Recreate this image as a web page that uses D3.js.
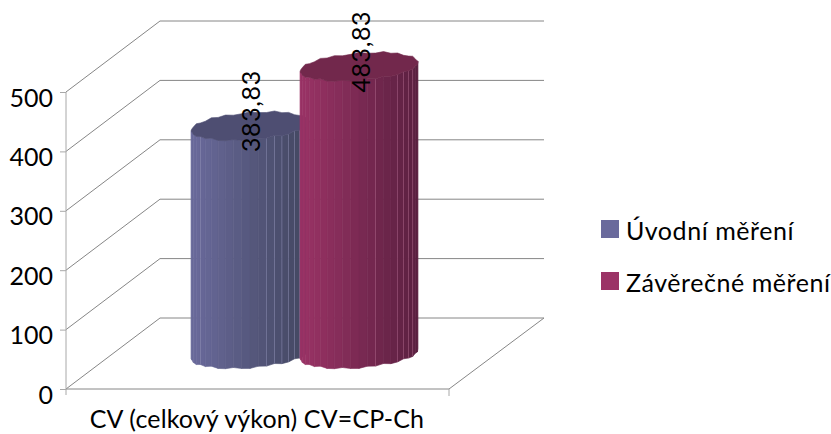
<!DOCTYPE html>
<html>
<head>
<meta charset="utf-8">
<script src="https://cdn.jsdelivr.net/npm/d3@7"></script>
<style>
  html, body { margin: 0; background: #fff; }
  svg { display: block; }
  text { font-family: Lato, "Open Sans", sans-serif; fill: #000; }
</style>
</head>
<body>
<svg id="chart" width="831" height="434"></svg>
<script>
const category = "CV (celkový výkon) CV=CP-Ch";
const seriesNames = ["Úvodní měření", "Závěrečné měření"];
const seriesValues = [383.83, 483.83];
const valueLabels = ["383,83", "483,83"];
const axisTicks = [0, 100, 200, 300, 400, 500];
const lightColors = ["#6a6a9c", "#9b3366"];
const darkColors = ["#42465f", "#5a2040"];
const capColors = ["#4e4e72", "#72284c"];
const edgeColors = ["#8f8fb8", "#b2668c"];
const seamFacets = [[4, 13, 14, 15, 16, 17, 18], [13, 16, 17, 18, 19]];

const svg = d3.select("#chart");

// Oblique box: the back wall sits up and to the right of the front plane.
const depth = { x: 94, y: -71 };
const yFront = d3.scaleLinear().domain([0, 500]).range([389, 92]);
const yBack = v => yFront(v) + depth.y;
const xFloor = d3.scaleLinear().domain([0, 1]).range([66, 449]);
const wallRight = xFloor(1) + depth.x + 1;

const grid = svg.append("g").attr("fill", "none").attr("stroke", "#868686").attr("stroke-width", 1);
axisTicks.forEach(v => {
  grid.append("path").attr("d", d3.line()([
    [xFloor(0), yFront(v)],
    [xFloor(0) + depth.x, yBack(v)],
    [wallRight, yBack(v)]
  ]));
});
grid.append("path").attr("d", d3.line()([
  [xFloor(0), yFront(0)],
  [xFloor(1), yFront(0)],
  [xFloor(1) + depth.x + 1, yBack(0)]
]));

// Value axis on the front plane
const axis = d3.axisLeft(yFront).tickValues(axisTicks).tickSize(6).tickPadding(7);
const axisG = svg.append("g").attr("transform", `translate(${xFloor(0)},0)`).call(axis);
axisG.select(".domain").attr("stroke", "#a8a8a8").attr("d", `M0,${yFront(500)}V${yFront(0) + 6}`);
axisG.selectAll(".tick line").attr("stroke", "#a8a8a8");
axisG.selectAll(".tick text").attr("font-size", 25).attr("font-family", "Lato").attr("fill", "#000").attr("dy", "0.72em")
  .attr("y", -4);

// Category tick at the end of the floor edge and category label
svg.append("line").attr("x1", xFloor(1)).attr("x2", xFloor(1)).attr("y1", yFront(0)).attr("y2", yFront(0) + 7)
  .attr("stroke", "#a8a8a8");
svg.append("text").attr("x", 257).attr("y", 428).attr("text-anchor", "middle")
  .attr("font-size", 25).attr("letter-spacing", 0.15).text(category);

// Cylinders: faceted, with a slightly sheared elliptical cap
const xCenter = d3.scalePoint().domain(seriesNames).range([250, 359]);
const yBase = d3.scaleLinear().domain([0, 500]).range([354, 57]);
const radiusX = 59, radiusY = 13.5, shear = 0.075, facets = 22;
const lump = [0.6, -0.7, 0.5, 0.9, -0.5, 0.4, -0.9, 0.7];

function rim(cx, cy, i) {
  const a = Math.PI * i / facets;
  const x = cx - radiusX * Math.cos(a);
  const y = cy + radiusY * Math.sin(a) - (x - cx) * shear;
  return [x, y + lump[((i % lump.length) + lump.length) % lump.length]];
}

seriesNames.forEach((name, s) => {
  const cx = xCenter(name);
  const top = yBase(seriesValues[s]);
  const bottom = yBase(0);
  const g = svg.append("g");
  const shade = d3.interpolateRgb(lightColors[s], darkColors[s]);
  d3.range(facets).forEach(i => {
    const t0 = rim(cx, top, i), t1 = rim(cx, top, i + 1);
    const b0 = rim(cx, bottom, i), b1 = rim(cx, bottom, i + 1);
    const t = ((t0[0] + t1[0]) / 2 - (cx - radiusX)) / (2 * radiusX);
    const c = shade(t);
    g.append("path").attr("d", d3.line()([t0, t1, b1, b0]) + "Z")
      .attr("fill", c).attr("stroke", c).attr("stroke-width", 0.6);
  });
  // Pale seams between some facets
  seamFacets[s].forEach(i => {
    const a = rim(cx, top, i), b = rim(cx, bottom, i);
    g.append("line").attr("x1", a[0]).attr("y1", a[1]).attr("x2", b[0]).attr("y2", b[1])
      .attr("stroke", edgeColors[s]).attr("stroke-width", 0.7).attr("opacity", 0.7);
  });
  const capPts = d3.range(facets * 2).map(i => rim(cx, top, i));
  g.append("path").attr("d", d3.line()(capPts) + "Z").attr("fill", capColors[s])
    .attr("stroke", capColors[s]).attr("stroke-width", 0.6);
});

// Rotated value labels
const labelX = [260, 370];
seriesNames.forEach((name, s) => {
  svg.append("text")
    .attr("transform", `translate(${labelX[s]},${yBase(seriesValues[s]) + 26}) rotate(-90)`)
    .attr("font-size", 25).attr("letter-spacing", 0.6).text(valueLabels[s]);
});

// Legend
const legendY = d3.scalePoint().domain(seriesNames).range([220, 272]);
seriesNames.forEach((name, s) => {
  svg.append("rect").attr("x", 601).attr("y", legendY(name)).attr("width", 18).attr("height", 18)
    .attr("fill", lightColors[s]);
  svg.append("text").attr("x", 626).attr("y", legendY(name) + 19.5).attr("font-size", 25)
    .attr("letter-spacing", 0.55).text(name);
});
</script>
</body>
</html>
